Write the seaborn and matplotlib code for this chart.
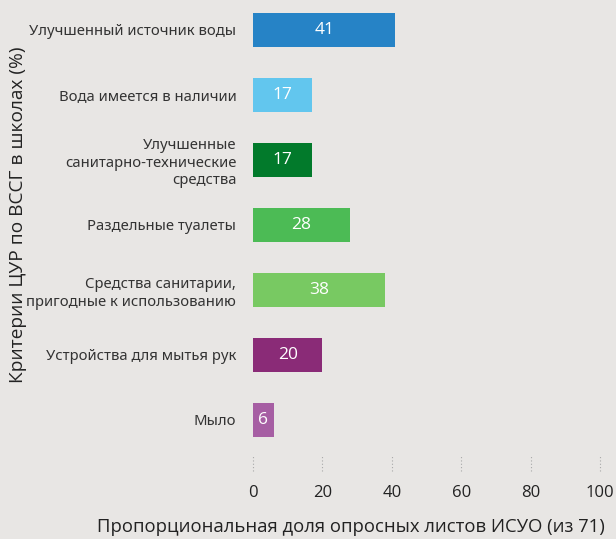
import matplotlib
matplotlib.use("Agg")
import matplotlib.pyplot as plt
import matplotlib.transforms as mtransforms
import seaborn as sns
import pandas as pd

categories = [
    "Улучшенный источник воды",
    "Вода имеется в наличии",
    "Улучшенные\nсанитарно-технические\nсредства",
    "Раздельные туалеты",
    "Средства санитарии,\nпригодные к использованию",
    "Устройства для мытья рук",
    "Мыло",
]
values = [41, 17, 17, 28, 38, 20, 6]
colors = ["#2683c6", "#62c6ee", "#027a2b", "#4cbb55", "#78c962", "#8a2b77", "#a65ea3"]
x_ticks = [0, 20, 40, 60, 80, 100]

bg = "#e8e6e4"
sns.set_theme(style="white")
plt.rcParams["font.family"] = ["Open Sans", "DejaVu Sans"]

df = pd.DataFrame({"criterion": categories, "value": values})

fig = plt.figure(figsize=(6.16, 5.39), dpi=100, facecolor=bg)
ax = fig.add_axes([253 / 616, 1 - 475 / 539, 347 / 616, 475 / 539])
ax.set_facecolor(bg)

sns.barplot(data=df, x="value", y="criterion", hue="criterion", palette=colors,
            legend=False, width=0.52, ax=ax, saturation=1, linewidth=0)

for i, v in enumerate(values):
    ax.text(v / 2, i, str(v), ha="center", va="center", color="white", fontsize=12.5)

ax.set_xlim(0, 100)
ax.set_ylim(6.85, -0.46)
ax.set_xticks(x_ticks)
ax.tick_params(axis="x", length=0, labelsize=12, pad=7, colors="#222222")
ax.tick_params(axis="y", length=0, pad=12)
ax.set_yticks(range(len(categories)))
ax.set_yticklabels(categories, fontsize=10.7, color="#333333", family=["Noto Sans", "DejaVu Sans"],
                   linespacing=1.25)

# short dotted guides just above the tick labels
trans = mtransforms.blended_transform_factory(ax.transData, ax.transAxes)
for t in x_ticks:
    ax.vlines(t, 0.008, 0.042, transform=trans, colors="#a8a8a8", linestyles=(0, (1, 2)),
              linewidth=0.8, clip_on=False)

for s in ax.spines.values():
    s.set_visible(False)

ax.set_xlabel("")
ax.set_ylabel("")
fig.text(351 / 616, 1 - 527 / 539, "Пропорциональная доля опросных листов ИСУО (из 71)",
         ha="center", va="center", fontsize=13.3, color="#222222")
fig.text(18 / 616, 1 - 215 / 539, "Критерии ЦУР по ВССГ в школах (%)", rotation=90,
         ha="center", va="center", fontsize=13.8, color="#222222")

fig.savefig("out.png", dpi=100, facecolor=bg)
